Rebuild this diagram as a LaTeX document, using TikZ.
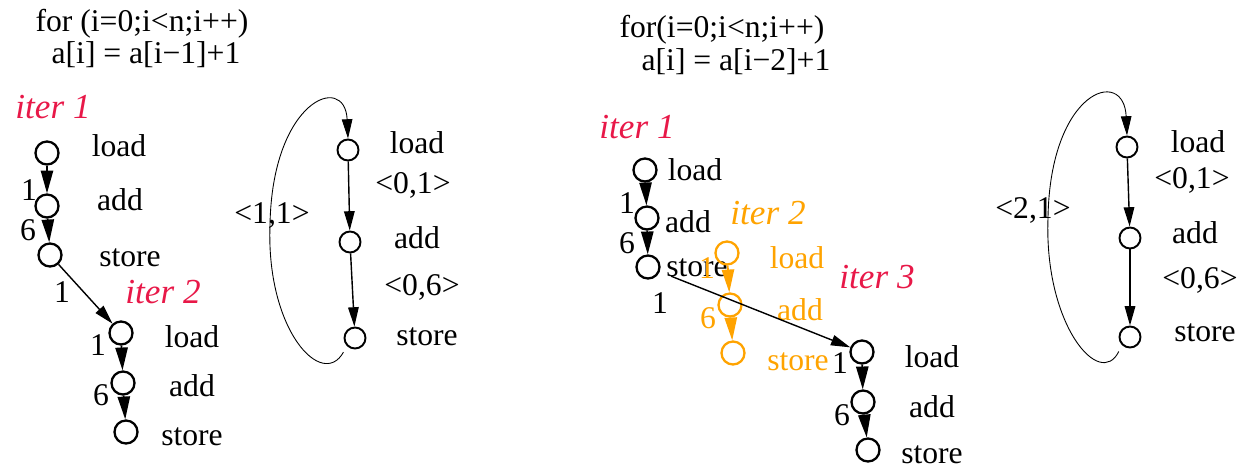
\documentclass[tikz,border=0pt]{standalone}
\usepackage{fontspec}
\setmainfont{Liberation Serif}
\usetikzlibrary{arrows.meta}
\definecolor{iterred}{RGB}{232,24,72}
\definecolor{iterorange}{RGB}{255,163,0}
\tikzset{
  opS/.style   ={circle, draw, line width=1.3pt, minimum size=0.46cm, inner sep=0pt},
  opL/.style   ={circle, draw, line width=1.1pt, minimum size=0.42cm, inner sep=0pt},
  chainA/.style={-{Triangle[length=13pt,width=7pt]}, line width=1pt},
  depA/.style  ={-{Triangle[length=11pt,width=6pt]}, line width=0.8pt},
  loopA/.style ={-{Triangle[length=11pt,width=6pt]}, line width=0.5pt},
  txt/.style   ={font=\fontsize{18}{20}\selectfont, inner sep=0pt},
  iterS/.style ={font=\fontsize{20}{22}\selectfont\itshape, text=#1, inner sep=0pt},
}
\begin{document}
\begin{tikzpicture}[x=0.02cm, y=-0.02cm]
  \useasboundingbox (0,0) rectangle (1242,468);
  % left: a[i] = a[i-1]+1
  \node[txt] (forA) at (142,24) {for (i=0;i<n;i++)};
  \node[txt] (bodyA) at (146,55) {a[i] = a[i−1]+1};
  \node[iterS=iterred] (itA1) at (53,107) {iter 1};
  \node[iterS=iterred] (itA2) at (163,292) {iter 2};
  \foreach \n/\x/\y/\t/\tx/\ty in {L1a/47/153/load/119/146, L1b/47/206/add/120/200, L1c/50/255/store/130/258,
      L2a/121/333/load/192/337, L2b/123/383/add/192/386, L2c/126/432/store/192/437}{
    \node[opS] (\n) at (\x,\y) {}; \node[txt] (\n-t) at (\tx,\ty) {\t};}
  \foreach \a/\b in {L1a/L1b, L1b/L1c, L2a/L2b, L2b/L2c} \draw[chainA] (\a) -- (\b);
  \draw[depA] (L1c) -- (L2a);
  \node[txt] (wA1) at (29,190) {1}; \node[txt] (wA2) at (28,230) {6};
  \node[txt] (wA3) at (62,292) {1}; \node[txt] (wA4) at (98,345) {1};
  \node[txt] (wA5) at (101,395) {6};
  % left loop graph
  \foreach \n/\x/\y/\t/\tx/\ty in {M1/348/150/load/417/143, M2/350/242/add/417/238, M3/355/338/store/427/337}{
    \node[opL] (\n) at (\x,\y) {}; \node[txt] (\n-t) at (\tx,\ty) {\t};}
  \draw[depA] (M1) -- (M2); \draw[depA] (M2) -- (M3);
  \node[txt] (dM1) at (413,185) {<0,1>}; \node[txt] (dM2) at (422,287) {<0,6>};
  \coordinate (Mleft) at (270,225);
  \draw[loopA, shorten <=4pt] (M3.south west) .. controls (322,390) and (266,330) .. (Mleft)
     .. controls (272,100) and (345,72) .. (M1.north);
  \node[txt] (dM3) at (272,215) {<1,1>};
  % right: a[i] = a[i-2]+1
  \node[txt] (forB) at (722,30) {for(i=0;i<n;i++)};
  \node[txt] (bodyB) at (736,62) {a[i] = a[i−2]+1};
  \node[iterS=iterred] (itB1) at (637,127) {iter 1};
  \node[iterS=iterorange] (itB2) at (768,213) {iter 2};
  \node[iterS=iterred] (itB3) at (877,277) {iter 3};
  \foreach \n/\x/\y/\t/\tx/\ty in {R1a/645/170/load/695/170, R1b/647/218/add/688/222, R1c/648/267/store/697/268,
      R2a/862/352/load/932/357, R2b/863/402/add/932/407, R2c/868/450/store/932/455}{
    \node[opS] (\n) at (\x,\y) {}; \node[txt] (\n-t) at (\tx,\ty) {\t};}
  \foreach \a/\b in {R1a/R1b, R1b/R1c, R2a/R2b, R2b/R2c} \draw[chainA] (\a) -- (\b);
  \node[txt] (wB1) at (627,203) {1}; \node[txt] (wB2) at (627,243) {6};
  \node[txt] (wB3) at (660,303) {1}; \node[txt] (wB4) at (840,363) {1};
  \node[txt] (wB5) at (842,415) {6};
  \begin{scope}[iterorange]
    \foreach \n/\x/\y/\t/\tx/\ty in {O1/727/253/load/797/258, O2/730/305/add/800/310, O3/733/353/store/798/362}{
      \node[opS] (\n) at (\x,\y) {}; \node[txt] (\n-t) at (\tx,\ty) {\t};}
    \draw[chainA] (O1) -- (O2); \draw[chainA] (O2) -- (O3);
    \node[txt] (wO1) at (707,268) {1}; \node[txt] (wO2) at (708,318) {6};
  \end{scope}
  \draw[depA, shorten <=7pt] (R1c) -- (R2a);
  % right loop graph
  \foreach \n/\x/\y/\t/\tx/\ty in {N1/1127/147/load/1198/142, N2/1130/238/add/1195/233, N3/1130/337/store/1205/333}{
    \node[opL] (\n) at (\x,\y) {}; \node[txt] (\n-t) at (\tx,\ty) {\t};}
  \draw[depA] (N1) -- (N2); \draw[depA] (N2) -- (N3);
  \node[txt] (dN1) at (1192,180) {<0,1>}; \node[txt] (dN2) at (1200,280) {<0,6>};
  \coordinate (Nleft) at (1048,218);
  \draw[loopA, shorten <=4pt] (N3.south west) .. controls (1100,390) and (1044,325) .. (Nleft)
     .. controls (1050,90) and (1124,66) .. (N1.north);
  \node[txt] (dN3) at (1033,210) {<2,1>};
\end{tikzpicture}
\end{document}
